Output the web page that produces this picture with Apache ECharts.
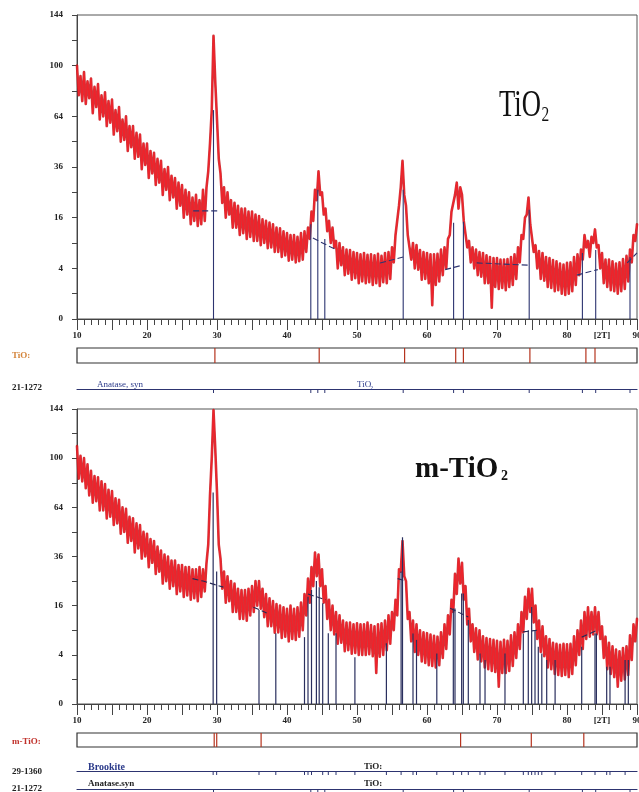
<!DOCTYPE html>
<html>
<head>
<meta charset="utf-8">
<script src="https://cdn.jsdelivr.net/npm/echarts@6/dist/echarts.min.js"></script>
<style>html,body{margin:0;padding:0;background:#fff}#c{width:639px;height:792px}</style>
</head>
<body>
<div id="c"></div>
<script>
// ---- data (2theta from 10 to 90, step 0.25; counts) ----
const scanStart = 10, scanStep = 0.25;
const topCounts = [
100,78,92,74, 95,72,88,76, 90,66,84,70, 86,62,78,64, 80,58,74,60,
75,53,68,55, 70,49,62,50, 64,44,58,46, 58,40,54,41, 53,35,48,37,
48,31,44,33, 43,28,40,29, 39,24,35,26, 36,22,32,23, 31,19,29,20,
28,16,26,17, 25,14,23,15, 24,13.5,22,14, 26,15,27,34, 48,68,125,88,
62,40,33,21, 27,16,25,17, 22,13,21,13, 20,11,19,11.5, 19,10,18,10.5,
18,9.5,17,9.5, 16.5,8.5,15.5,9, 15,7.8,14.5,8, 14,7,13,7, 12.8,6,12,6.3,
11.5,5.3,11,5.5, 11,5,10.5,5.2, 11.5,5.5,12,7, 13,10,18,15, 26,22,34,24,
25,17,19,12, 15,9,13,8, 9.5,4,9,4.5, 8,3,7.5,3.2, 7.4,2.4,7,2.6,
6.8,2,6.5,2.2, 6.8,2,6.4,2.1, 6.5,1.8,6.3,2, 6.6,1.7,6.2,2.1, 6.8,2,7,2.5,
8,5,11,11, 20,27,39,24, 20,11,11,5.5, 9,4,8.5,3.8, 7.4,2.4,7,2.5,
6.8,2,6.5,0.3, 6.5,1.8,6.6,2.2, 7.5,3,8,4, 10,11,18,18, 24,29,19,27,
24,15,15,8, 9.5,5,8,4, 7.5,3,7,2.8, 6.8,2,6.3,2, 6,0.2,5.8,1.6,
5.8,1.4,5.5,1.5, 5.5,1.3,5.6,1.6, 6,1.8,6.5,2.5, 8,5,11,10, 16,17,23,14,
14,7,8.5,4, 7.2,2.5,6.8,2.3, 6,1.6,5.8,1.5, 5.4,1.2,5.2,1.3, 4.8,1,4.6,0.9,
4.9,1,5,1.2, 6,1.8,6.5,3, 7.5,5.5,11,8, 9.5,6,10.5,9, 12.5,8,8.5,4,
6.8,2,5.5,1.6, 5.5,1.3,5.2,1.2, 4.8,1,5,1.2, 5.6,1.4,6.2,2.2, 7.5,5,11,9.5,
14
];
const bottomCounts = [
110,84,102,82, 100,77,95,72, 90,67,86,68, 85,62,82,62, 80,57,76,58,
75,53,70,54, 69,48,64,49, 63,43,58,44, 57,38,54,40, 53,35,49,36,
48,31,45,33, 44,28,41,29, 39,24,37,25, 36,22,34,23, 34,20,32,21,
32,19,31,19.5, 31,18,30,18.5, 30,17.5,31,19, 30,21,33,42, 72,100,143,108,
74,42,35,22, 29,17,27,17.5, 25,14,24,14, 22,12,21.5,12, 21.5,11.5,22,13,
23,14,25,16, 25,15,22,12.5, 20,10,18.5,10, 17.5,8.4,16.5,8.5, 16,7.2,15.5,7.5,
15,6.5,16,7, 15,6.8,15.5,7.5, 17,9,20,13, 26,17,31,23, 38,27,37,23,
30,17,23,12, 18,9,16,8, 14,6,13,6.2, 11.5,4.6,11,4.8, 11,4.2,10.5,4.3,
10.8,4,10.5,4, 10.5,4,11,4.1, 10.3,3.8,10,1.6, 10.5,3.7,10.8,4, 11.5,4.8,13,6,
14,9,18,13, 30,29,44,27, 25,12,14,6.5, 11.5,4.5,10.5,4, 9,3,8.5,2.8,
8.3,2.5,8,2.4, 7.7,2.2,7.5,2.5, 8.5,3.5,10.5,5, 13,8,18,14, 28,20,35,24,
33,18,23,10.5, 15,6.5,10.5,4.5, 9.5,3.3,9,3, 7.6,2.2,7.2,2, 7,1.8,6.8,1.7,
6.6,0.5,6.4,1.6, 6.8,1.6,6.6,1.8, 7.8,2.4,8.5,3.5, 10.5,5,14,8.5, 19,12,22,14,
22,11,16,7, 11.5,4.5,10,3.8, 7.6,2.2,7,2, 6.2,1.5,6,1.4, 5.8,1.3,6,1.4,
5.9,1.2,6,1.5, 7.6,2.5,9,4, 11.5,5,14,7, 15.5,7.5,14,8, 15.5,8,14,7,
10,3.5,7.5,2, 6.2,1.5,5.5,1.2, 4.9,0.5,4.6,0.9, 5.2,1,5.5,1.4, 7.8,3.2,10.5,6.5,
12
];
// reference (anatase 21-1272) sticks: [2theta, counts]
const anataseSticks = [[29.5,68],[43.4,14],[44.4,26],[45.4,10],[56.6,26],[63.8,14.4],[65.2,14.7],[74.6,18.6],[82.2,6.8],[84.1,7.4],[89,6]];
// sticks drawn in the m-TiO2 panel
const mSticks = [[29.45,74],[29.95,29],[36.0,14.6],[38.4,8.3],[42.5,7.4],[43.0,19],[43.5,21.5],[44.2,25],[44.6,22.6],[45.1,16.8],[45.9,8.3],[47.0,8.3],[49.7,3.6],[54.2,6.1],[56.3,29],[56.5,46],[58.0,8.2],[58.5,6.8],[61.4,4.2],[63.76,15.1],[64.0,15.1],[64.95,20.2],[65.19,20.2],[65.9,11.7],[67.57,4.2],[68.29,3.2],[71.14,4.2],[73.76,8.2],[74.47,9],[74.95,15.6],[75.43,9],[75.9,5.4],[76.4,4.2],[77.1,3.2],[78.3,3.2],[82.1,5.4],[84.0,8.2],[84.2,8.2],[85.67,2.3],[86.14,2.3],[88.3,3.2],[88.76,3.2]];
const brookiteTicks = [29.45,29.95,36.0,38.4,42.5,43.0,43.5,45.1,45.9,47.0,49.7,54.2,56.3,58.0,58.5,61.4,63.76,64.95,65.9,67.57,68.29,71.14,73.76,74.47,74.95,75.43,75.9,76.4,78.3,82.1,84.0,85.67,86.14,88.3];
const anataseTicks = [29.5,43.4,44.4,45.4,56.6,63.8,65.2,74.6,82.2,84.1,89];
const topFound = [29.7,44.6,56.8,64.1,65.2,74.7,82.7,84.0];
const bottomFound = [29.6,29.96,36.3,64.8,74.9,82.4];
// fitted background (gaps as '-')
const topBg = [[26.6,18.2],[30.4,18.2],[30.5,'-'],[43.7,10.2],[45.7,8.5],[47,7.5],[47.1,'-'],[53.3,4.9],[56.6,6],[56.7,'-'],[62.6,3.8],[65,4.5],[65.1,'-'],[67.1,4.9],[74.8,4.5],[74.9,'-'],[81.4,3],[84.4,3.8],[84.5,'-'],[88.6,4.9],[90,6.8]];
const bottomBg = [[26.5,26],[28,25],[30.9,22.6],[31,'-'],[35.2,15.5],[37.1,13.7],[37.2,'-'],[43.0,20],[45.5,18],[45.6,'-'],[55.8,26],[57,25],[57.1,'-'],[63.3,15.2],[65.9,12.5],[66,'-'],[73.7,8.6],[75.7,9],[75.8,'-'],[82.1,7.4],[84.3,9]];
const yTickCounts = [0,4,16,36,64,100,144];

// ---- chart ----
const chart = echarts.init(document.getElementById('c'), null, {renderer:'canvas'});
const font = {fontFamily:'"Liberation Serif", "DejaVu Serif", serif', fontWeight:'bold', fontSize:9, color:'#222'};
const axisCol = '#444';
const navy = '#2d3470';
const sqrt = v => (v === '-' ? '-' : Math.sqrt(v));

function scan(counts){ return counts.map((c,i)=>[scanStart + i*scanStep, Math.sqrt(c)]); }

function mainX(gi){
  return {gridIndex:gi, type:'value', min:10, max:90, interval:5,
    axisLine:{show:true, onZero:false, lineStyle:{color:axisCol, width:1}},
    axisTick:{show:true, length:11, lineStyle:{color:axisCol}},
    minorTick:{show:true, splitNumber:5, length:6, lineStyle:{color:axisCol}},
    splitLine:{show:false}, minorSplitLine:{show:false},
    axisLabel:Object.assign({margin:12, showMaxLabel:true, showMinLabel:true, hideOverlap:false,
      formatter:v => v%10===0 ? String(v) : (v===85 ? '[2T]' : '')}, font)};
}
function mainY(gi){
  return {gridIndex:gi, type:'value', min:0, max:12, interval:1,
    axisLine:{show:true, onZero:false, lineStyle:{color:axisCol, width:1}},
    axisTick:{show:true, length:5, lineStyle:{color:axisCol}},
    splitLine:{show:false},
    axisLabel:Object.assign({margin:14, formatter:v => {const c=v*v; return yTickCounts.indexOf(c)>=0 ? String(c) : '';}}, font)};
}
function hidX(gi, lineShow){
  return {gridIndex:gi, type:'value', min:10, max:90, position:'top',
    axisLine:{show:!!lineShow, onZero:false, lineStyle:{color:navy, width:1.2}},
    axisTick:{show:false}, axisLabel:{show:false}, splitLine:{show:false}};
}
function hidY(gi){
  return {gridIndex:gi, type:'value', min:0, max:1, show:false};
}
function vlines(ai, data, color, width, z){
  return {type:'custom', xAxisIndex:ai, yAxisIndex:ai, z:z, silent:true, clip:false,
    data:data,
    renderItem:(p, api) => {
      const a = api.coord([api.value(0), api.value(1)]);
      const b = api.coord([api.value(0), api.value(2)]);
      return {type:'line', shape:{x1:a[0], y1:a[1], x2:b[0], y2:b[1]}, style:{stroke:color, lineWidth:width}};
    }};
}
const gridBase = {left:77, right:2, outerBoundsMode:'none', containLabel:false};
const grids = [
  Object.assign({top:15, height:304, show:true, borderColor:'#555', borderWidth:1}, gridBase),
  Object.assign({top:348, height:15, show:true, borderColor:'#333', borderWidth:1.2}, gridBase),
  Object.assign({top:389, height:4}, gridBase),
  Object.assign({top:409, height:295, show:true, borderColor:'#555', borderWidth:1}, gridBase),
  Object.assign({top:733, height:14, show:true, borderColor:'#333', borderWidth:1.2}, gridBase),
  Object.assign({top:771, height:4}, gridBase),
  Object.assign({top:789, height:3}, gridBase)
];
const redUnder = {color:'#c8141a', width:2.6, opacity:0.85, join:'round', cap:'round'};
const redOver = {color:'#f0222a', width:1.2, opacity:1, join:'round'};
function scanSeries(ai, counts){
  const d = scan(counts);
  return [
    {type:'line', xAxisIndex:ai, yAxisIndex:ai, data:d, showSymbol:false, symbol:'none', sampling:null, lineStyle:redUnder, z:2, silent:true},
    {type:'line', xAxisIndex:ai, yAxisIndex:ai, data:d, showSymbol:false, symbol:'none', sampling:null, lineStyle:redOver, z:2, silent:true}
  ];
}
const series = [].concat(
  scanSeries(0, topCounts),
  [
  {type:'line', xAxisIndex:0, yAxisIndex:0, data:topBg.map(d=>[d[0], sqrt(d[1])]), showSymbol:false, symbol:'none', connectNulls:false, lineStyle:{color:navy, width:1.1, type:[6,3]}, z:3, silent:true},
  vlines(0, anataseSticks.map(d=>[d[0], 0, Math.sqrt(d[1])]), navy, 1.1, 4),
  vlines(1, topFound.map(x=>[x, 0, 1]), '#b5341f', 1.2, 4),
  vlines(2, anataseTicks.map(x=>[x, 1, 0]), navy, 1, 4)
  ],
  scanSeries(3, bottomCounts),
  [
  {type:'line', xAxisIndex:3, yAxisIndex:3, data:bottomBg.map(d=>[d[0], sqrt(d[1])]), showSymbol:false, symbol:'none', connectNulls:false, lineStyle:{color:'#262a55', width:1.1, type:[6,3]}, z:3, silent:true},
  vlines(3, mSticks.map(d=>[d[0], 0, Math.sqrt(d[1])]), '#2a2f5e', 1.2, 4),
  vlines(4, bottomFound.map(x=>[x, 0, 1]), '#b5341f', 1.2, 4),
  vlines(5, brookiteTicks.map(x=>[x, 1, 0]), navy, 1, 4),
  vlines(6, anataseTicks.map(x=>[x, 1, 0]), navy, 1, 4)
  ]
);
const serif = '"Liberation Serif", "DejaVu Serif", serif';
function txt(x, y, text, size, color, bold, sx){
  return {type:'text', x:x, y:y, scaleX:sx||1, silent:true, z:10,
    style:{text:text, font:(bold?'bold ':'')+size+'px '+serif, fill:color, align:'left', verticalAlign:'middle'}};
}
const graphics = [
  txt(499, 106, 'TiO', 38, '#111', false, 0.7),
  txt(541.5, 115, '2', 22, '#111', false, 0.7),
  txt(415, 470, 'm-TiO', 29, '#111', true),
  txt(501, 476, '2', 14, '#111', true),
  txt(12, 356, 'TiO:', 9, '#d4843a', true),
  txt(12, 388, '21-1272', 9, '#222', true),
  txt(97, 385, 'Anatase, syn', 9, '#2b3a8a', false),
  txt(357, 385, 'TiO', 9, '#2b3a8a', false),
  txt(370, 388, '2', 6, '#2b3a8a', false),
  txt(12, 742, 'm-TiO:', 9, '#c0302a', true),
  txt(12, 772, '29-1360', 9, '#222', true),
  txt(88, 767, 'Brookite', 10, '#2b3a8a', true),
  txt(364, 767, 'TiO:', 9, '#222', true),
  txt(12, 789, '21-1272', 9, '#222', true),
  txt(88, 784, 'Anatase.syn', 9, '#222', true),
  txt(364, 784, 'TiO:', 9, '#222', true)
];
chart.setOption({
  backgroundColor:'#fff',
  animation:false,
  grid:grids,
  xAxis:[mainX(0), hidX(1,false), hidX(2,true), mainX(3), hidX(4,false), hidX(5,true), hidX(6,true)],
  yAxis:[mainY(0), hidY(1), hidY(2), mainY(3), hidY(4), hidY(5), hidY(6)],
  series:series,
  graphic:graphics
});
</script>
</body>
</html>
